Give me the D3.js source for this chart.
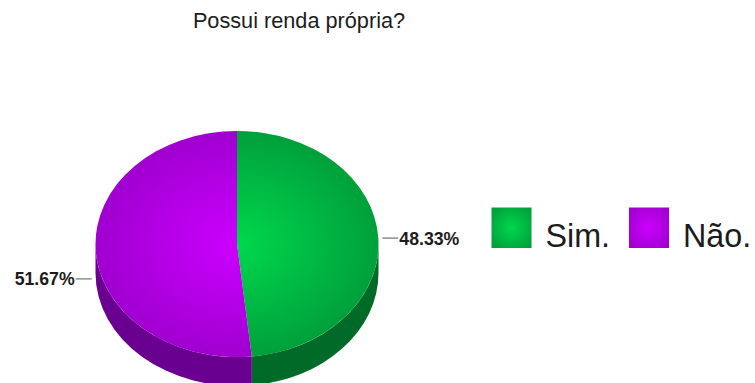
<!DOCTYPE html>
<html>
<head>
<meta charset="utf-8">
<script src="https://cdn.jsdelivr.net/npm/d3@7/dist/d3.min.js"></script>
<style>
  html, body { margin: 0; padding: 0; background: #fff; }
  svg { display: block; }
  text { font-family: "Liberation Sans", Arial, sans-serif; fill: #1c1c1c; }
</style>
</head>
<body>
<svg id="chart" width="755" height="383"></svg>
<script>
// Survey answers and their shares
const categories = ["Sim.", "Não."];
const shares = [48.33, 51.67];
const shareLabels = ["48.33%", "51.67%"];
const faceCentre = ["#00d84c", "#cc00ff"];
const faceEdge = ["#00a03b", "#a000d0"];
const wallColour = ["#006b28", "#690090"];
const chartTitle = "Possui renda própria?";

const svg = d3.select("#chart");
const cx = 237, cy = 244, rx = 141.5, ry = 113, depth = 29;
const squash = ry / rx;

// Radial shading for the top face and the legend swatches
const defs = svg.append("defs");
categories.forEach((c, i) => {
  const faceGrad = defs.append("radialGradient")
    .attr("id", "face" + i).attr("gradientUnits", "userSpaceOnUse")
    .attr("cx", 0).attr("cy", 0).attr("r", rx);
  faceGrad.append("stop").attr("offset", "0%").attr("stop-color", faceCentre[i]);
  faceGrad.append("stop").attr("offset", "100%").attr("stop-color", faceEdge[i]);
  const swatchGrad = defs.append("radialGradient").attr("id", "swatch" + i).attr("r", "0.62");
  swatchGrad.append("stop").attr("offset", "0%").attr("stop-color", faceCentre[i]);
  swatchGrad.append("stop").attr("offset", "100%").attr("stop-color", faceEdge[i]);
});

const pie = d3.pie().sort(null).value(d => d);
const slices = pie(shares);
const arc = d3.arc().innerRadius(0).outerRadius(rx);

svg.append("text")
  .attr("x", 299).attr("y", 28).attr("text-anchor", "middle")
  .attr("font-size", 21.7).text(chartTitle);

// Pie drawn in circle coordinates, flattened vertically to give the tilt
const disc = svg.append("g").attr("transform", `translate(${cx},${cy}) scale(1,${squash})`);
const liftedDepth = depth / squash;

// Side wall: the part of each slice's rim on the front half of the disc
function wallPath(d) {
  const a0 = Math.max(d.startAngle, Math.PI / 2);
  const a1 = Math.min(d.endAngle, 3 * Math.PI / 2);
  const toCanvas = a => a - Math.PI / 2;
  const p = d3.path();
  p.moveTo(rx * Math.cos(toCanvas(a0)), rx * Math.sin(toCanvas(a0)));
  p.arc(0, 0, rx, toCanvas(a0), toCanvas(a1), false);
  p.lineTo(rx * Math.cos(toCanvas(a1)), rx * Math.sin(toCanvas(a1)) + liftedDepth);
  p.arc(0, liftedDepth, rx, toCanvas(a1), toCanvas(a0), true);
  p.closePath();
  return p.toString();
}

disc.selectAll("path.wall").data(slices).join("path")
  .attr("class", "wall")
  .attr("d", wallPath)
  .attr("fill", (d, i) => wallColour[i]);

disc.selectAll("path.face").data(slices).join("path")
  .attr("class", "face")
  .attr("d", arc)
  .attr("fill", (d, i) => `url(#face${i})`);

// Value labels with short leaders at each slice's middle angle
slices.forEach((d, i) => {
  const mid = (d.startAngle + d.endAngle) / 2;
  const right = Math.sin(mid) > 0;
  const front = Math.cos(mid) < 0;
  const y = cy - ry * Math.cos(mid) + (front ? depth : 0);
  const x = cx + rx * Math.sin(mid);
  const dir = right ? 1 : -1;
  svg.append("line")
    .attr("x1", x + dir * 4).attr("x2", x + dir * 20)
    .attr("y1", y).attr("y2", y)
    .attr("stroke", "#555").attr("stroke-width", 1);
  svg.append("text")
    .attr("x", x + dir * 21).attr("y", y + 6.5)
    .attr("text-anchor", right ? "start" : "end")
    .attr("font-size", 17.7).attr("font-weight", "bold")
    .text(shareLabels[i]);
});

// Legend placed along a point scale
const legendX = d3.scalePoint().domain(categories).range([491.5, 629]);
const legend = svg.selectAll("g.legend").data(categories).join("g")
  .attr("class", "legend")
  .attr("transform", d => `translate(${legendX(d)},207.5)`);
legend.append("rect")
  .attr("width", 40).attr("height", 40.5)
  .attr("fill", (d, i) => `url(#swatch${i})`);
legend.append("text")
  .attr("x", 54).attr("y", 39)
  .attr("font-size", 32.3)
  .text(d => d);
</script>
</body>
</html>
